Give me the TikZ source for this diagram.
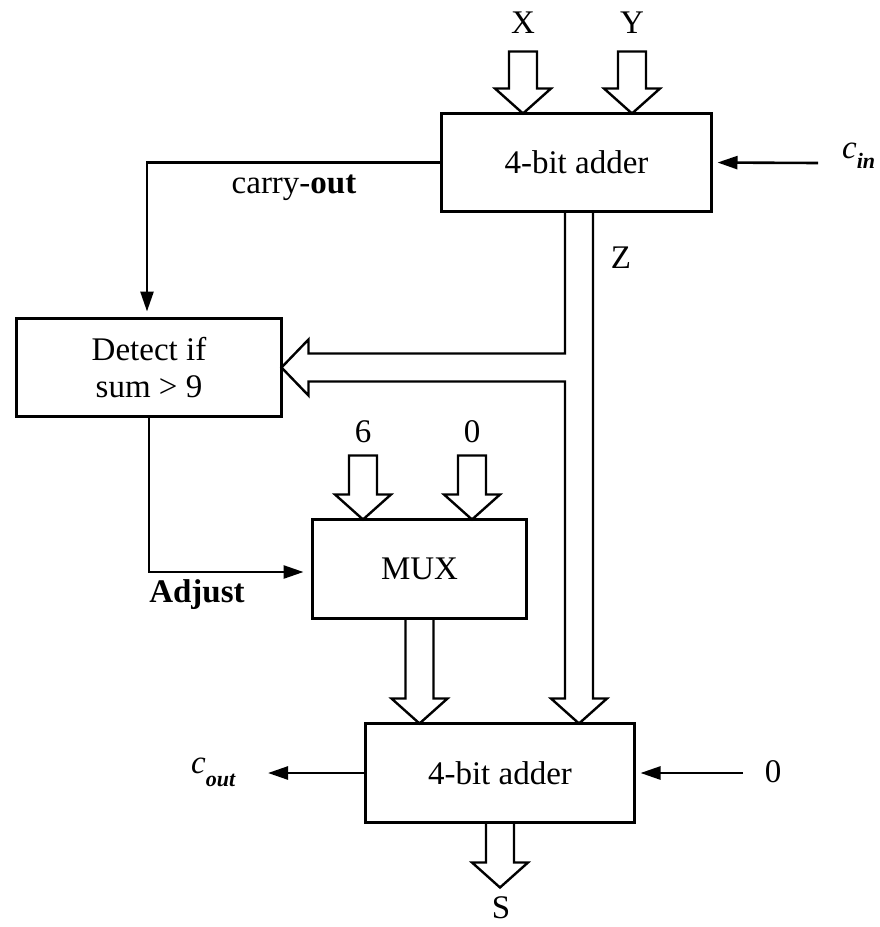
\documentclass[tikz,border=0pt]{standalone}
\usepackage{fontspec}
\setmainfont{Liberation Serif}
\usetikzlibrary{arrows.meta,calc}
\newcommand{\hollowdown}[2]{\draw[bus] #1 -- ++(-28,-25) -- ++(14,0) -- ++(0,-#2) -- ++(28,0) -- ++(0,#2) -- ++(14,0) -- cycle;}
\begin{document}
\begin{tikzpicture}[x=1pt,y=-1pt,
  box/.style={draw,line width=3.8pt,inner sep=0pt,outer sep=0pt,align=center,font=\fontsize{33}{37}\selectfont},
  lbl/.style={inner sep=0pt,font=\fontsize{33}{37}\selectfont},
  wire/.style={line width=2.6pt,-{Triangle[length=20pt,width=13pt]}},
  bus/.style={line width=2.4pt,line join=miter}]
\useasboundingbox (0,0) rectangle (880,927);
% blocks
\node[box,minimum width=270pt,minimum height=98pt] (top) at (576.5,162.5) {4-bit adder};
\node[box,minimum width=265pt,minimum height=98pt] (det) at (149,367.5) {Detect if\\sum > 9};
\node[box,minimum width=214pt,minimum height=99pt] (mux) at (419.5,569) {MUX};
\node[box,minimum width=269pt,minimum height=99pt] (bot) at (500,773) {4-bit adder};
% labels
\node[lbl] (X) at (523,23) {X};
\node[lbl] (Y) at (632,23) {Y};
\node[lbl] (six) at (363,432) {6};
\node[lbl] (zero) at (472,432) {0};
\node[lbl] (Z) at (621,258) {Z};
\node[lbl] (co) at (294,188) {carry-\textbf{out}};
\node[lbl] (adj) at (197,595) {\textbf{Adjust}};
\node[lbl] (S) at (501,908) {S};
\node[lbl] (zin) at (773,772) {0};
\node[lbl,anchor=base west] (cin) at (842,158) {\textit{c}\raisebox{-10pt}{\fontsize{22}{22}\selectfont\bfseries\itshape in}};
\node[lbl,anchor=base west] (cout) at (191,773) {\textit{c}\raisebox{-13pt}{\fontsize{22}{22}\selectfont\bfseries\itshape out}};
% coordinates
\coordinate (cinS) at (818,163);
\coordinate (zinS) at (743,773);
\coordinate (coutE) at (268,773);
\coordinate (cox) at (147,0);
\coordinate (adjy) at (0,572);
\coordinate (zl) at (565,0);
\coordinate (zr) at (593,0);
\coordinate (zc) at (579,0);
% single wires
\draw[wire,shorten >=6pt] (cinS) -- (top.east);
\draw[wire,shorten >=6pt] (zinS) -- (bot.east);
\draw[wire] (bot.west) -- (coutE);
\draw[wire,shorten >=7pt] (top.west) -- (cox |- top.west) -- (cox |- det.north);
\draw[wire,shorten >=9pt] (det.south) -- (det.south |- adjy) -- (mux.west |- adjy);
% hollow bus arrows
\hollowdown{(X |- top.north)}{37}
\hollowdown{(Y |- top.north)}{37}
\hollowdown{(six |- mux.north)}{39}
\hollowdown{(zero |- mux.north)}{39}
\draw[bus] ($(mux.south)+(-14,0)$) -- ($(mux.south |- bot.north)+(-14,-25)$) -- ++(-14,0)
  -- (mux.south |- bot.north) -- ++(28,-25) -- ++(-14,0) -- ($(mux.south)+(14,0)$);
\draw[bus] ($(bot.south)+(-14,0)$) -- ++(0,40) -- ++(-14,0) -- ++(28,25) -- ++(28,-25)
  -- ++(-14,0) -- ($(bot.south)+(14,0)$);
\draw[bus] (zr |- top.south) -- ($(zr |- bot.north)+(0,-25)$) -- ++(14,0) -- (zc |- bot.north)
  -- ++(-28,-25) -- ++(14,0) -- ($(zl |- det.east)+(0,14)$) -- ($(det.east)+(27,14)$)
  -- ++(0,14) -- (det.east) -- ++(27,-28) -- ++(0,14) -- ($(zl |- det.east)+(0,-14)$)
  -- (zl |- top.south);
\end{tikzpicture}
\end{document}
